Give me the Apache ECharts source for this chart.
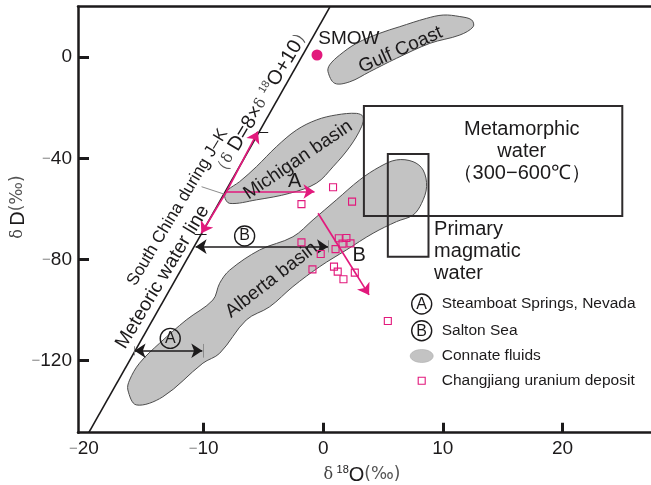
<!DOCTYPE html>
<html><head><meta charset="utf-8">
<script src="https://cdn.jsdelivr.net/npm/echarts@6/dist/echarts.min.js"></script>
<style>html,body{margin:0;padding:0;background:#fff}#c{width:651px;height:485px}</style>
</head><body><div id="c"></div>
<script>
const FONT = '"Liberation Sans", Arial, sans-serif';
const PINK = '#e2197c';
const INK = '#1c1a1b';

// axis ranges and ticks
const X_MIN = -20.5, X_MAX = 27.4, Y_MIN = -148.5, Y_MAX = 20;
const xTickLabels = [-20, -10, 0, 10, 20];
const xTickMarks = [-10, 0, 10, 20];
const yTickLabels = [0, -40, -80, -120];

// meteoric water line (δD = 8δ18O + 10), endpoints
const meteoricLine = [[-19.6, -148.5], [0.55, 19.8]];

// connate fluid fields
const gulfCoast = [[0.40,-5.7],[0.96,-10.3],[2.22,-9.7],[3.89,-5.7],[6.13,-0.4],[8.91,5.5],[11.42,8.8],[12.54,12.1],[12.40,14.8],[11.42,16.1],[10.03,16.7],[8.64,15.4],[6.40,12.1],[4.73,9.5],[2.78,5.5],[1.38,0.9],[0.54,-3.0]];
const michiganBasin = [[-8.24,-55.1],[-7.82,-57.8],[-5.59,-56.4],[-2.80,-53.8],[-0.57,-49.8],[0.82,-43.3],[2.22,-35.4],[3.20,-27.5],[3.33,-23.5],[2.78,-22.2],[1.10,-22.8],[-0.57,-24.8],[-2.24,-28.8],[-3.92,-35.4],[-5.59,-43.3],[-6.99,-49.2],[-7.97,-52.5]];
const albertaBasin = [[-16.33,-131.6],[-15.63,-137.5],[-13.41,-134.3],[-10.06,-121.0],[-8.66,-117.1],[-6.43,-103.9],[-4.48,-98.7],[-2.53,-90.7],[-0.29,-82.8],[1.94,-76.2],[4.17,-69.6],[6.13,-65.0],[7.51,-62.4],[8.22,-57.8],[8.64,-51.2],[8.35,-44.6],[7.51,-41.3],[6.13,-40.6],[4.73,-43.3],[3.05,-48.5],[1.10,-56.4],[-0.85,-64.3],[-2.53,-71.0],[-5.31,-76.2],[-7.82,-84.2],[-8.66,-89.4],[-9.22,-96.0],[-11.45,-103.9],[-13.68,-113.1],[-15.36,-121.0],[-16.19,-127.7]];
const connateFields = [gulfCoast, michiganBasin, albertaBasin];

// water boxes [x1, y1, x2, y2]
const metamorphicBox = [3.4, -19.3, 25.0, -62.8];
const magmaticBox = [5.4, -38.3, 8.8, -78.9];

// Changjiang uranium deposit samples
const uraniumX = [0.82,-1.82,2.41,-1.82,-0.21,1.30,1.94,1.03,1.61,2.28,-0.90,0.90,1.21,1.69,2.64,5.40];
const uraniumY = [-51.4,-58.1,-57.1,-73.2,-77.8,-71.6,-71.5,-75.9,-73.7,-73.6,-83.9,-82.8,-84.8,-87.8,-85.2,-104.3];

// SMOW
const smowPoint = [-0.52, 0.9];

// shift arrows
const pinkOrigin = [-8.08, -53.1];
const pinkEnds = [[-0.73, -53.1], [-5.46, -29.4], [-10.19, -69.6]];
const pinkArrowB = [[-0.43, -61.7], [3.83, -94.0]];
const blackArrowA = [[-15.77, -116.1], [-10.11, -116.1]];
const blackArrowB = [[-10.67, -74.9], [0.40, -74.9]];
const blackTicks = [[[-5.6, -29.7], [-4.6, -29.7]], [[-10.75, -70.0], [-9.75, -70.0]]];
const greyTicks = [[[-10.06, -113.4], [-10.06, -118.8]], [[0.40, -72.4], [0.40, -77.2]], [[-15.77, -114.3], [-15.77, -117.9]], [[-10.17, -51.2], [-8.24, -54.2]]];

// circled letters
const circleNames = ['A', 'B'];
const circlePos = [[-12.79, -111.2], [-6.57, -70.7]];

// text annotations
const annoText = ['Gulf Coast','Michigan basin','Alberta basin','Meteoric water line','South China during J\u2013K',
  '{p|\uFF08}{g|\u03B4} {b|D=8\u00D7}{g|\u03B4} {s|18}{b|O+10}{p|\uFF09}',
  'SMOW','A','B','Metamorphic\nwater\n\uFF08300\u2212600\u2103\uFF09','Primary\nmagmatic\nwater'];
const annoX = [6.46, -2.11, -4.33, -13.43, -12.18, -5.15, 2.14, -2.38, 3.0, 16.6, 9.27];
const annoY = [2.9, -40.6, -88.1, -86.9, -59.4, -17.7, 7.5, -49.2, -78.6, -37.1, -77.0];
const annoAngle = [24, 34, 38, 59, 59, 59, 0, 0, 0, 0, 0];
const annoSize = [19, 19, 19, 19.5, 17, 20, 19, 20, 20, 20, 20];

const chart = echarts.init(document.getElementById('c'), null, {renderer: 'canvas'});

function minusFmt(v) {
  return v < 0 ? '{m|\u2212}{n|' + Math.abs(v) + '}' : '{n|' + v + '}';
}
const labelRich = {
  m: {color: '#8a8a8a', fontSize: 15, fontFamily: FONT},
  n: {color: INK, fontSize: 19, fontFamily: FONT}
};
const axisLineStyle = {color: INK, width: 2.5};

const option = {
  animation: false,
  backgroundColor: '#fff',
  grid: {left: 78, right: 0, top: 6.7, bottom: 52.3, containLabel: false},
  xAxis: [{
    type: 'value', min: X_MIN, max: X_MAX, position: 'bottom',
    axisLine: {onZero: false, lineStyle: axisLineStyle},
    axisTick: {inside: true, length: 10, customValues: xTickMarks, lineStyle: {color: INK, width: 3}},
    axisLabel: {customValues: xTickLabels, formatter: minusFmt, rich: labelRich, margin: 7},
    splitLine: {show: false}
  }, {
    type: 'value', min: X_MIN, max: X_MAX, position: 'top',
    axisLine: {onZero: false, lineStyle: axisLineStyle},
    axisTick: {show: false}, axisLabel: {show: false}, splitLine: {show: false}
  }],
  yAxis: {
    type: 'value', min: Y_MIN, max: Y_MAX, position: 'left',
    axisLine: {onZero: false, lineStyle: axisLineStyle},
    axisTick: {inside: true, length: 11, customValues: yTickLabels, lineStyle: {color: INK, width: 3}},
    axisLabel: {customValues: yTickLabels, formatter: minusFmt, rich: labelRich, margin: 6},
    splitLine: {show: false}
  },
  graphic: [
    {type: 'text', x: 18, y: 207, rotation: Math.PI / 2, z: 100,
     style: {text: '{g|\u03B4} {b|D}{p|(\u2030)}', textAlign: 'center', textVerticalAlign: 'middle', align: 'center', verticalAlign: 'middle',
       rich: {g: {fontSize: 16, fontFamily: 'DejaVu Serif', fill: '#444'}, b: {fontSize: 20, fontFamily: FONT, fill: INK}, p: {fontSize: 17, fontFamily: 'DejaVu Sans', fill: '#555'}}}},
    {type: 'text', x: 362, y: 475, z: 100,
     style: {text: '{g|\u03B4} {s|18}{b|O}{p|(\u2030)}', textAlign: 'center', textVerticalAlign: 'middle', align: 'center', verticalAlign: 'middle',
       rich: {g: {fontSize: 16, fontFamily: 'DejaVu Serif', fill: '#444'}, s: {fontSize: 11, fontFamily: FONT, fill: INK, verticalAlign: 'top', lineHeight: 22}, b: {fontSize: 20, fontFamily: FONT, fill: INK}, p: {fontSize: 17, fontFamily: 'DejaVu Sans', fill: '#555'}}}},
    // legend
    {type: 'circle', shape: {cx: 421.7, cy: 304, r: 10}, style: {fill: 'none', stroke: INK, lineWidth: 1.4}},
    {type: 'text', x: 421.7, y: 304.5, style: {text: 'A', font: '16px ' + FONT, fill: INK, textAlign: 'center', textVerticalAlign: 'middle', align: 'center', verticalAlign: 'middle'}},
    {type: 'text', x: 441.7, y: 304, style: {text: 'Steamboat Springs, Nevada', font: '15.5px ' + FONT, fill: INK, textAlign: 'left', textVerticalAlign: 'middle', align: 'left', verticalAlign: 'middle'}},
    {type: 'circle', shape: {cx: 421.7, cy: 330.7, r: 10}, style: {fill: 'none', stroke: INK, lineWidth: 1.4}},
    {type: 'text', x: 421.7, y: 331.2, style: {text: 'B', font: '16px ' + FONT, fill: INK, textAlign: 'center', textVerticalAlign: 'middle', align: 'center', verticalAlign: 'middle'}},
    {type: 'text', x: 441.7, y: 330.7, style: {text: 'Salton Sea', font: '15.5px ' + FONT, fill: INK, textAlign: 'left', textVerticalAlign: 'middle', align: 'left', verticalAlign: 'middle'}},
    {type: 'ellipse', shape: {cx: 421.7, cy: 356, rx: 11.5, ry: 6.5}, style: {fill: '#c3c3c3', stroke: '#aaa', lineWidth: 0.6}},
    {type: 'text', x: 441.7, y: 356, style: {text: 'Connate fluids', font: '15.5px ' + FONT, fill: INK, textAlign: 'left', textVerticalAlign: 'middle', align: 'left', verticalAlign: 'middle'}},
    {type: 'rect', shape: {x: 418.2, y: 377.2, width: 7, height: 7}, style: {fill: 'none', stroke: PINK, lineWidth: 1.1}},
    {type: 'text', x: 441.7, y: 380.7, style: {text: 'Changjiang uranium deposit', font: '15.5px ' + FONT, fill: INK, textAlign: 'left', textVerticalAlign: 'middle', align: 'left', verticalAlign: 'middle'}}
  ],
  series: [
    {
      type: 'custom', coordinateSystem: 'cartesian2d', z: 1, silent: true, clip: false,
      data: connateFields.map(f => [f[0][0], f[0][1]]),
      renderItem: function (params, api) {
        const pts = connateFields[params.dataIndex].map(p => api.coord(p));
        return {type: 'polygon', shape: {points: pts, smooth: 0.35},
          style: {fill: '#c3c3c3', stroke: '#4d4d4d', lineWidth: 1}};
      }
    },
    {
      type: 'custom', coordinateSystem: 'cartesian2d', z: 2, silent: true, clip: false,
      encode: {x: [0, 2], y: [1, 3]},
      data: [metamorphicBox, magmaticBox],
      renderItem: function (params, api) {
        const a = api.coord([api.value(0), api.value(1)]);
        const b = api.coord([api.value(2), api.value(3)]);
        return {type: 'rect', shape: {x: Math.min(a[0], b[0]), y: Math.min(a[1], b[1]), width: Math.abs(b[0] - a[0]), height: Math.abs(b[1] - a[1])},
          style: {fill: 'none', stroke: '#2e2b2c', lineWidth: 2}};
      }
    },
    {
      type: 'line', z: 3, data: meteoricLine, symbol: 'none', silent: true,
      lineStyle: {color: INK, width: 1.6}
    },
    {
      type: 'lines', coordinateSystem: 'cartesian2d', z: 4, silent: true,
      lineStyle: {color: INK, width: 1.2, opacity: 1},
      data: blackTicks.map(c => ({coords: c}))
    },
    {
      type: 'lines', coordinateSystem: 'cartesian2d', z: 4, silent: true,
      lineStyle: {color: '#8c8c8c', width: 1, opacity: 1},
      data: greyTicks.map(c => ({coords: c}))
    },
    {
      type: 'lines', coordinateSystem: 'cartesian2d', z: 5, silent: true,
      symbol: ['none', 'arrow'], symbolSize: 11,
      lineStyle: {color: PINK, width: 1.7, opacity: 1},
      data: pinkEnds.map(e => ({coords: [pinkOrigin, e]})).concat([{coords: pinkArrowB}])
    },
    {
      type: 'lines', coordinateSystem: 'cartesian2d', z: 5, silent: true,
      symbol: ['arrow', 'arrow'], symbolSize: 11,
      lineStyle: {color: INK, width: 1.7, opacity: 1},
      data: [{coords: blackArrowA}, {coords: blackArrowB}]
    },
    {
      type: 'scatter', z: 6, silent: true,
      data: uraniumX.map((x, i) => [x, uraniumY[i]]),
      symbol: 'rect', symbolSize: 7,
      itemStyle: {color: 'rgba(0,0,0,0)', borderColor: PINK, borderWidth: 1.1, opacity: 1}
    },
    {
      type: 'scatter', z: 6, silent: true,
      data: [smowPoint], symbol: 'circle', symbolSize: 11,
      itemStyle: {color: PINK, opacity: 1}
    },
    {
      type: 'scatter', z: 6, silent: true,
      data: circlePos.map((p, i) => ({name: circleNames[i], value: p})),
      symbol: 'circle', symbolSize: 20,
      itemStyle: {color: 'rgba(255,255,255,0)', borderColor: INK, borderWidth: 1.4, opacity: 1},
      label: {show: true, position: 'inside', formatter: '{b}', color: INK, fontSize: 16, fontFamily: FONT, opacity: 1}
    },
    {
      type: 'custom', coordinateSystem: 'cartesian2d', z: 10, silent: true, clip: false,
      data: annoX.map((x, i) => [x, annoY[i]]),
      renderItem: function (params, api) {
        const i = params.dataIndex;
        const pt = api.coord([annoX[i], annoY[i]]);
        const isLeft = annoText[i].indexOf('Primary') === 0;
        return {
          type: 'text', x: pt[0], y: pt[1], rotation: annoAngle[i] * Math.PI / 180,
          style: {
            text: annoText[i], fontSize: annoSize[i], fontFamily: FONT, fill: INK,
            align: isLeft ? 'left' : 'center', verticalAlign: 'middle', lineHeight: 22,
            rich: {
              p: {fontSize: 17, fontFamily: 'DejaVu Sans', fill: '#555'},
              g: {fontSize: 15, fontFamily: 'DejaVu Serif', fill: '#444'},
              b: {fontSize: 20, fontFamily: FONT, fill: INK},
              s: {fontSize: 11, fontFamily: FONT, fill: '#444', verticalAlign: 'top', lineHeight: 22}
            }
          }
        };
      }
    }
  ]
};
chart.setOption(option);
</script>
</body></html>
